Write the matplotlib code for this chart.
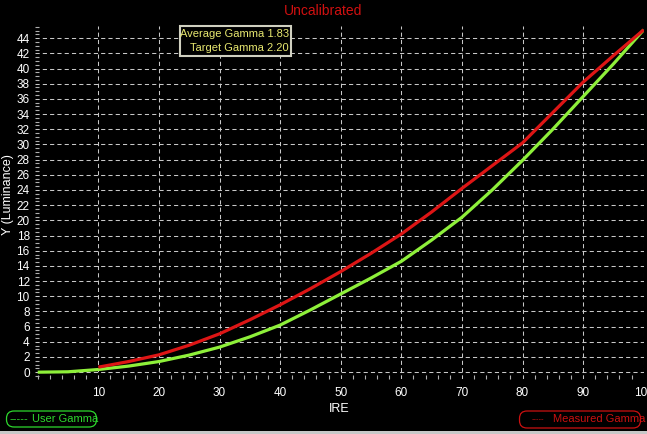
import matplotlib.pyplot as plt
from matplotlib.patches import FancyBboxPatch, Rectangle
from matplotlib.ticker import MultipleLocator

# IRE steps and luminance
ire_user = [0, 5, 10, 15, 20, 25, 30, 35, 40, 45, 50, 55, 60, 65, 70, 75, 80, 85, 90, 95, 100]
user_gamma = [0.0, 0.05, 0.35, 0.8, 1.4, 2.25, 3.3, 4.65, 6.2, 8.2, 10.3, 12.4, 14.6, 17.4, 20.4, 24.0, 27.9, 32.0, 36.3, 40.6, 45.1]

ire_meas = [10, 15, 20, 25, 30, 35, 40, 45, 50, 55, 60, 65, 70, 75, 80, 85, 90, 95, 100]
measured_gamma = [0.66, 1.4, 2.28, 3.55, 5.05, 6.9, 8.87, 11.0, 13.25, 15.65, 18.2, 21.1, 24.2, 27.2, 30.2, 34.2, 38.2, 41.7, 45.1]

y_ticks = list(range(0, 46, 2))
x_ticks = [10, 20, 30, 40, 50, 60, 70, 80, 90, 100]

avg_gamma = 1.83
target_gamma = 2.20

FONT = 'Liberation Sans'
W, H = 647, 434
fig = plt.figure(figsize=(W / 100, H / 100), dpi=100, facecolor='black')
ax = fig.add_axes([35.3 / W, (H - 379) / H, 608.4 / W, (379 - 26) / H])
ax.set_facecolor('black')

ax.plot(ire_user, user_gamma, color='#8ef03a', lw=2.3, zorder=3, solid_capstyle='butt')
ax.plot(ire_meas, measured_gamma, color='#dd1515', lw=2.3, zorder=4, solid_capstyle='butt')

ax.set_xlim(-0.4, 100)
ax.set_ylim(-0.9, 45.6)
ax.set_xticks(x_ticks)
ax.set_yticks(y_ticks)
ax.xaxis.set_minor_locator(MultipleLocator(2))
ax.yaxis.set_minor_locator(MultipleLocator(0.5))
ax.grid(True, which='major', color='#c8c8c8', ls=(0, (4, 3)), lw=0.75)
for s in ax.spines.values():
    s.set_visible(False)

ax.tick_params(which='major', length=0, colors='white', labelsize=8.5)
ax.tick_params(axis='x', which='major', pad=6)
ax.tick_params(axis='y', which='major', pad=4)
ax.tick_params(which='minor', direction='in', length=3, color='#b0b0b0', width=0.8)
for lab in ax.get_xticklabels() + ax.get_yticklabels():
    lab.set_fontfamily(FONT)

ax.set_xlabel('IRE', color='white', fontsize=9, family=FONT, labelpad=3)
fig.text(8 / W, 1 - 195 / H, 'Y (Luminance)', color='white', fontsize=9, family=FONT,
         rotation=90, ha='center', va='center')

fig.text(0.5, 1 - 11 / H, 'Uncalibrated', color='#d01010', fontsize=10,
         family=FONT, ha='center', va='center')

# gamma info box
fig.patches.append(Rectangle((180 / W, 1 - 56 / H), 111 / W, 30 / H, transform=fig.transFigure,
                             facecolor='black', edgecolor='#d0d0c0', lw=1.5, zorder=5))
fig.text(289 / W, 1 - 34 / H, f'Average Gamma {avg_gamma:.2f}', color='#e8e870', fontsize=8,
         family=FONT, ha='right', va='center', zorder=6)
fig.text(289 / W, 1 - 48 / H, f'Target Gamma {target_gamma:.2f}', color='#e8e870', fontsize=8,
         family=FONT, ha='right', va='center', zorder=6)

# legends at the bottom (pill shaped boxes)
r = 7.5 / W
fig.patches.append(FancyBboxPatch((6.5 / W, 1 - 427 / H), 90 / W, 16 / H, transform=fig.transFigure,
                                  boxstyle=f'round,pad=0,rounding_size={r}', mutation_aspect=W / H,
                                  facecolor='none', edgecolor='#2ed82e', lw=0.9))
fig.text(10 / W, 1 - 419 / H, '-----', color='#2ed82e', fontsize=8, family=FONT,
         ha='left', va='center')
fig.text(32 / W, 1 - 419 / H, 'User Gamma', color='#2ed82e', fontsize=8, family=FONT,
         ha='left', va='center')
fig.patches.append(FancyBboxPatch((519.5 / W, 1 - 428 / H), 121 / W, 17 / H, transform=fig.transFigure,
                                  boxstyle=f'round,pad=0,rounding_size={r}', mutation_aspect=W / H,
                                  facecolor='none', edgecolor='#cc1010', lw=0.9))
fig.text(532 / W, 1 - 419.5 / H, '-----', color='#cc1010', fontsize=5.5, family=FONT,
         ha='left', va='center')
fig.text(553 / W, 1 - 419.5 / H, 'Measured Gamma', color='#cc1010', fontsize=8, family=FONT,
         ha='left', va='center')

# grey frame at the bottom
fig.patches.append(Rectangle((0, 0), 1, 3 / H, transform=fig.transFigure,
                             facecolor='#c8c8c8', edgecolor='none'))

fig.savefig('out.png', dpi=100, facecolor='black')
